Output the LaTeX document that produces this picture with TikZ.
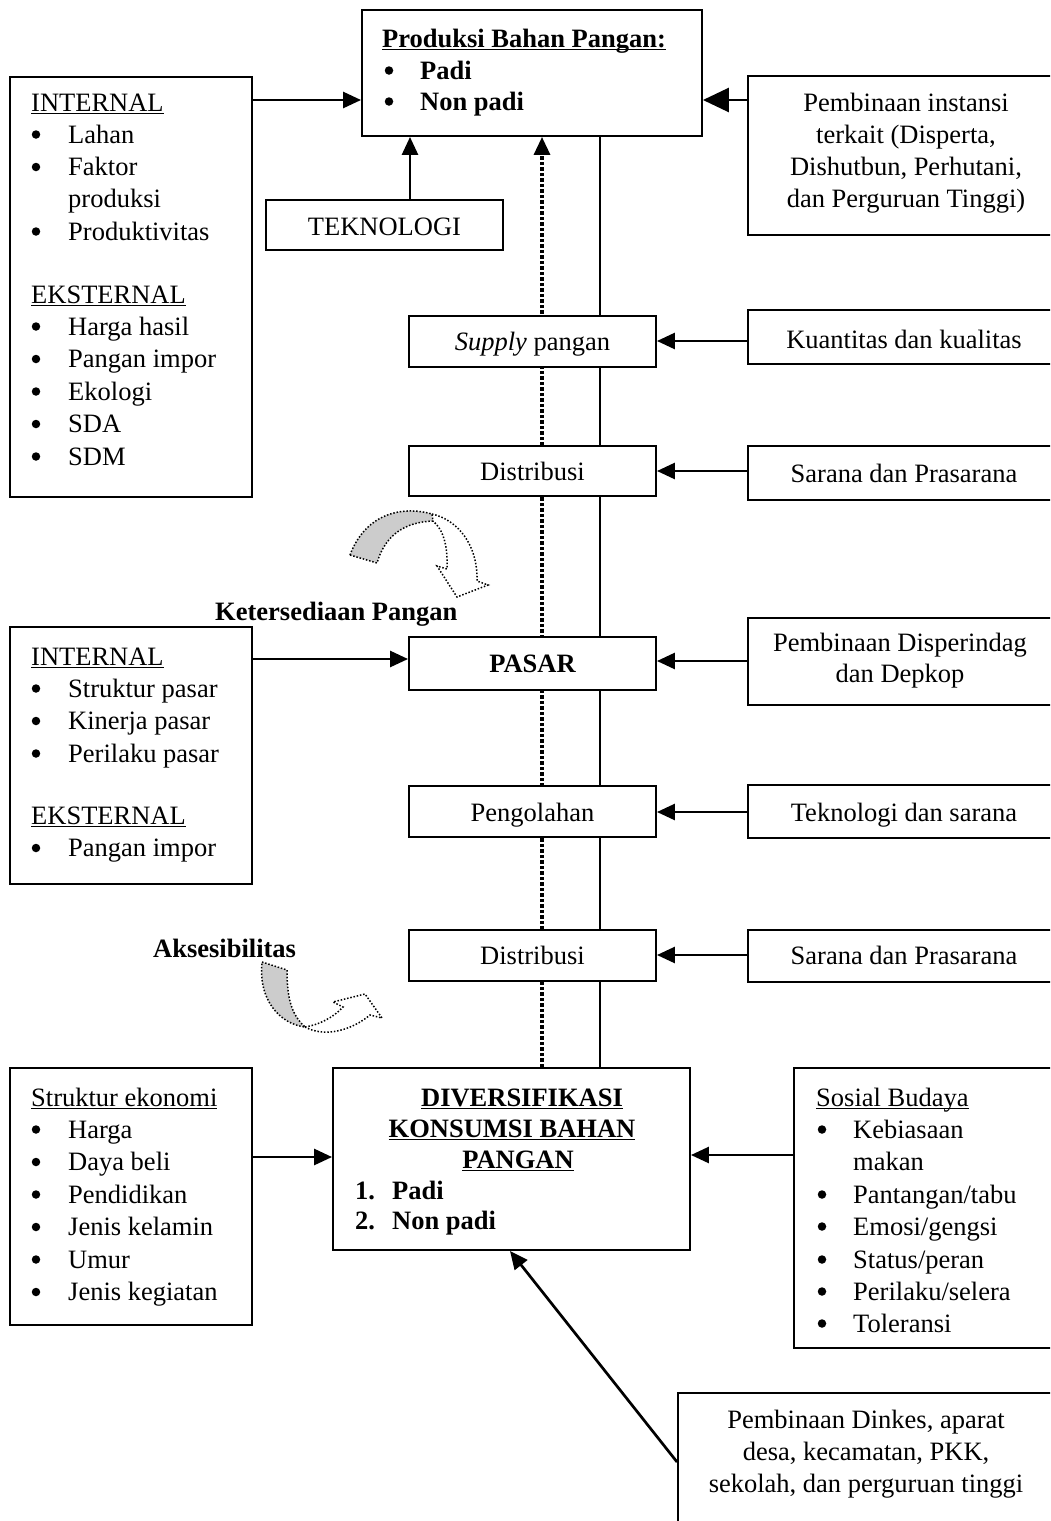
\documentclass[tikz,border=0pt]{standalone}
\usepackage{fontspec}
\setmainfont{Liberation Serif}
\usetikzlibrary{arrows.meta}
\pgfdeclarelayer{bg}
\pgfsetlayers{bg,main}
\newcommand\myul[1]{\setbox0\hbox{#1}\rlap{\rule[-3.4pt]{\wd0}{1.5pt}}\box0}
\newcommand\bitem[5]{\node[bul] (#1b) at (#2,#4-8.5) {};\node[ltxt] (#1) at (#3,#4) {#5};}
\begin{document}
\begin{tikzpicture}[x=1pt,y=-1pt,
  box/.style={draw,line width=1.9pt,fill=white,inner sep=0pt,rectangle},
  bul/.style={circle,fill,inner sep=0pt,minimum size=8.5pt},
  txt/.style={font=\fontsize{26.5}{32}\selectfont,inner sep=0pt,anchor=base},
  ltxt/.style={txt,anchor=base west},
  btxt/.style={txt,font=\fontsize{26.5}{32}\selectfont\bfseries},
  lbtxt/.style={btxt,anchor=base west},
  arr/.style={line width=2.7pt,-{Triangle[length=18pt,width=16pt]}},
  bigarr/.style={line width=2.7pt,-{Triangle[length=26pt,width=24pt]}},
  vline/.style={line width=2.5pt},
  dotarr/.style={line width=3.3pt,dash pattern=on 3.3pt off 2.2pt,-{Triangle[length=18pt,width=16pt]}},
  curvdot/.style={line width=1.5pt,dash pattern=on 1.5pt off 1.8pt}]
\clip (0,0) rectangle (1050,1521);

% ---------- boxes ----------
\node[box,minimum width=340,minimum height=126] (prod) at (532,73) {};
\node[box,minimum width=242,minimum height=420] (intl) at (131,287) {};
\node[box,minimum width=237,minimum height=50] (tek) at (384.5,225) {};
\node[box,minimum width=312,minimum height=159] (pemb1) at (904,155.5) {};
\node[box,minimum width=247,minimum height=51] (supply) at (532.5,341.5) {};
\node[box,minimum width=312,minimum height=54] (kuant) at (904,337) {};
\node[box,minimum width=247,minimum height=50] (dist1) at (532.5,471) {};
\node[box,minimum width=312,minimum height=54] (sarana1) at (904,473) {};
\node[box,minimum width=247,minimum height=53] (pasar) at (532.5,663.5) {};
\node[box,minimum width=312,minimum height=87] (pemb2) at (904,661.5) {};
\node[box,minimum width=242,minimum height=257] (int2) at (131,755.5) {};
\node[box,minimum width=247,minimum height=51] (peng) at (532.5,811.5) {};
\node[box,minimum width=312,minimum height=53] (tekno2) at (904,811.5) {};
\node[box,minimum width=247,minimum height=51] (dist2) at (532.5,955.5) {};
\node[box,minimum width=312,minimum height=52] (sarana2) at (904,956) {};
\node[box,minimum width=357,minimum height=182] (div) at (511.5,1159) {};
\node[box,minimum width=242,minimum height=257] (struk) at (131,1196.5) {};
\node[box,minimum width=266,minimum height=280] (sosial) at (927,1208) {};
\node[box,minimum width=382,minimum height=147] (pemb3) at (869,1466.5) {};

% ---------- vertical lines (behind boxes) ----------
\begin{pgfonlayer}{bg}
\draw[vline] (prod.south -| 600,0) -- (div.north -| 600,0);
\draw[dotarr] (div.north -| 542,0) -- (prod.south -| 542,0);
\end{pgfonlayer}

% ---------- connectors ----------
\draw[arr] (intl.east |- 0,100) -- (prod.west |- 0,100);
\draw[bigarr] (pemb1.west |- 0,100) -- (prod.east |- 0,100);
\draw[arr] (tek.north -| 410,0) -- (prod.south -| 410,0);
\draw[arr] (kuant.west |- 0,341) -- (supply.east |- 0,341);
\draw[arr] (sarana1.west |- 0,471) -- (dist1.east |- 0,471);
\draw[arr] (int2.east |- 0,659) -- (pasar.west |- 0,659);
\draw[arr] (pemb2.west |- 0,661) -- (pasar.east |- 0,661);
\draw[arr] (tekno2.west |- 0,812) -- (peng.east |- 0,812);
\draw[arr] (sarana2.west |- 0,955) -- (dist2.east |- 0,955);
\draw[arr] (struk.east |- 0,1157) -- (div.west |- 0,1157);
\draw[arr] (sosial.west |- 0,1155) -- (div.east |- 0,1155);
\draw[arr] (pemb3.west |- 0,1462) -- (div.south -| 510,0);

% ---------- curved arrows ----------
\filldraw[fill=gray!40,curvdot] (350,555) .. controls (365,515) and (400,505) .. (432,514) -- (433,521) .. controls (405,522) and (385,535) .. (377,563) -- cycle;
\draw[curvdot] (432,514) .. controls (458,520) and (478,545) .. (477,581) -- (488,585) -- (457,597) -- (437,566) -- (447,569) .. controls (448,548) and (444,530) .. (433,521);
\filldraw[fill=gray!40,curvdot] (262,962) -- (287,970) .. controls (287,1000) and (292,1015) .. (305,1027) .. controls (280,1024) and (258,1000) .. (262,962) -- cycle;
\draw[curvdot] (305,1027) .. controls (325,1038) and (352,1030) .. (370,1015) -- (382,1018) -- (365,994) -- (333,1002) -- (343,1007) .. controls (333,1018) and (318,1025) .. (305,1027);

% ---------- texts ----------
\node[lbtxt] (prodh) at (382,47) {\myul{Produksi Bahan Pangan:}};
\node[bul] (prodab) at (389,70.5) {};
\node[lbtxt] (proda) at (420,79) {Padi};
\node[bul] (prodbb) at (389,101.5) {};
\node[lbtxt] (prodb) at (420,110) {Non padi};

\node[ltxt] (i1h) at (31,111) {\myul{INTERNAL}};
\bitem{i1a}{36}{68}{143}{Lahan}
\bitem{i1b}{36}{68}{175.5}{Faktor}
\node[ltxt] (i1b2) at (68,207.5) {produksi};
\bitem{i1c}{36}{68}{240}{Produktivitas}
\node[ltxt] (e1h) at (31,303) {\myul{EKSTERNAL}};
\bitem{e1a}{36}{68}{335}{Harga hasil}
\bitem{e1b}{36}{68}{367.5}{Pangan impor}
\bitem{e1c}{36}{68}{400}{Ekologi}
\bitem{e1d}{36}{68}{432.5}{SDA}
\bitem{e1e}{36}{68}{465}{SDM}

\node[txt] (tekt) at (384.5,235) {TEKNOLOGI};

\node[txt] (p1a) at (906,111) {Pembinaan instansi};
\node[txt] (p1b) at (906,143) {terkait (Disperta,};
\node[txt] (p1c) at (906,175) {Dishutbun, Perhutani,};
\node[txt] (p1d) at (906,207) {dan Perguruan Tinggi)};

\node[txt] (supt) at (532.5,350) {\textit{Supply} pangan};
\node[txt] (kuat) at (904,348) {Kuantitas dan kualitas};
\node[txt] (d1t) at (532.5,480) {Distribusi};
\node[txt] (s1t) at (904,482) {Sarana dan Prasarana};

\node[lbtxt] (ket) at (215,620) {Ketersediaan Pangan};

\node[btxt] (past) at (532.5,672) {PASAR};
\node[txt] (p2a) at (900,651) {Pembinaan Disperindag};
\node[txt] (p2b) at (900,682) {dan Depkop};

\node[ltxt] (i2h) at (31,665) {\myul{INTERNAL}};
\bitem{i2a}{36}{68}{697}{Struktur pasar}
\bitem{i2b}{36}{68}{729.5}{Kinerja pasar}
\bitem{i2c}{36}{68}{762}{Perilaku pasar}
\node[ltxt] (e2h) at (31,824) {\myul{EKSTERNAL}};
\bitem{e2a}{36}{68}{856.5}{Pangan impor}

\node[txt] (pgt) at (532.5,821) {Pengolahan};
\node[txt] (t2t) at (904,821) {Teknologi dan sarana};

\node[lbtxt] (aks) at (153,957) {Aksesibilitas};
\node[txt] (d2t) at (532.5,964) {Distribusi};
\node[txt] (s2t) at (904,964) {Sarana dan Prasarana};

\node[btxt] (dva) at (522,1106) {\myul{DIVERSIFIKASI}};
\node[btxt] (dvb) at (512,1137) {\myul{KONSUMSI BAHAN}};
\node[btxt] (dvc) at (518,1168) {\myul{PANGAN}};
\node[lbtxt] (dvd1) at (355,1199) {1.};
\node[lbtxt] (dvd) at (392,1199) {Padi};
\node[lbtxt] (dve1) at (355,1229) {2.};
\node[lbtxt] (dve) at (392,1229) {Non padi};

\node[ltxt] (sth) at (31,1106) {\myul{Struktur ekonomi}};
\bitem{sta}{36}{68}{1138}{Harga}
\bitem{stb}{36}{68}{1170.5}{Daya beli}
\bitem{stc}{36}{68}{1203}{Pendidikan}
\bitem{std}{36}{68}{1235.5}{Jenis kelamin}
\bitem{ste}{36}{68}{1268}{Umur}
\bitem{stf}{36}{68}{1300.5}{Jenis kegiatan}

\node[ltxt] (soh) at (816,1106) {\myul{Sosial Budaya}};
\bitem{soa}{822}{853}{1138}{Kebiasaan}
\node[ltxt] (soa2) at (853,1170) {makan};
\bitem{sob}{822}{853}{1203}{Pantangan/tabu}
\bitem{soc}{822}{853}{1235}{Emosi/gengsi}
\bitem{sod}{822}{853}{1268}{Status/peran}
\bitem{soe}{822}{853}{1300}{Perilaku/selera}
\bitem{sof}{822}{853}{1332}{Toleransi}

\node[txt] (p3a) at (866,1428) {Pembinaan Dinkes, aparat};
\node[txt] (p3b) at (866,1460) {desa, kecamatan, PKK,};
\node[txt] (p3c) at (866,1492) {sekolah, dan perguruan tinggi};
\end{tikzpicture}
\end{document}
